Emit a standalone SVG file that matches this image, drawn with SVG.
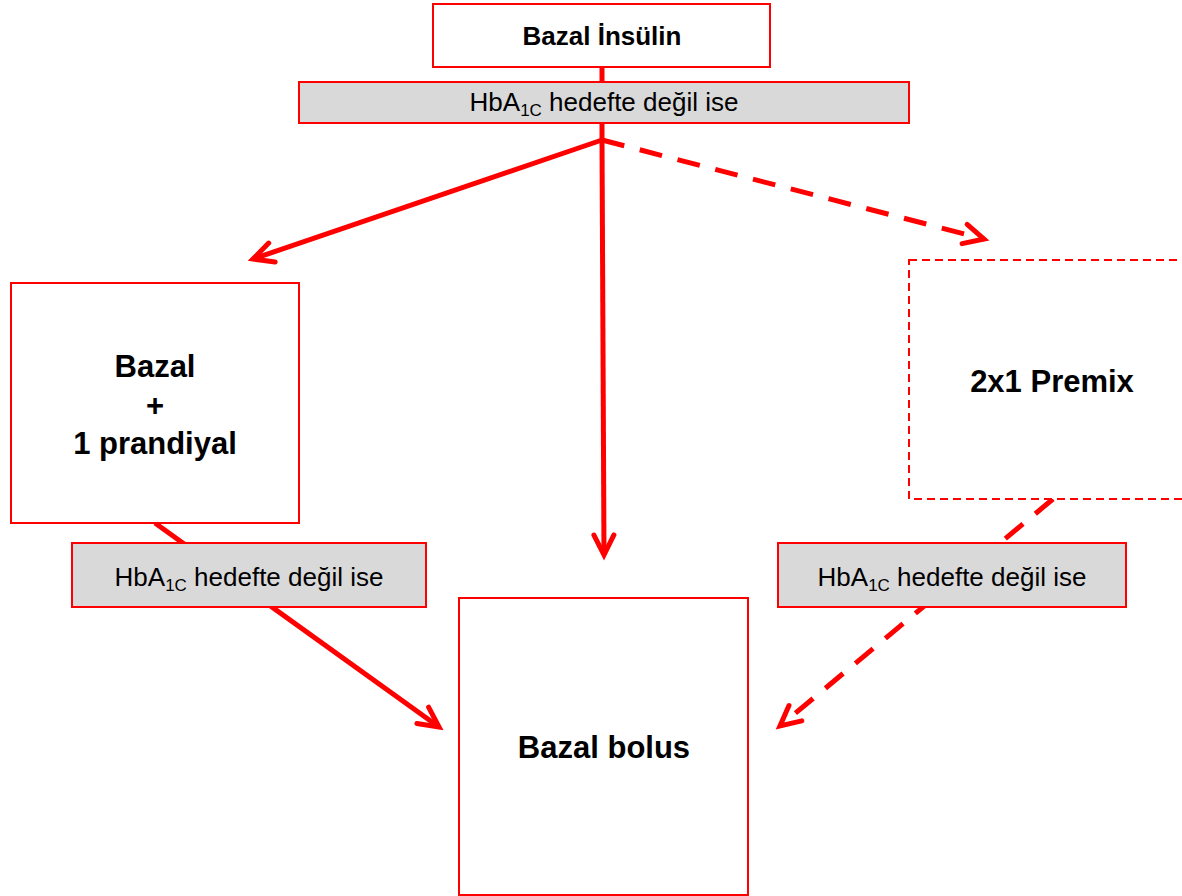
<svg xmlns="http://www.w3.org/2000/svg" width="1182" height="896" viewBox="0 0 1182 896">
  <style>
    .box { fill: #ffffff; stroke: #ff0000; stroke-width: 2; }
    .box-dashed { fill: #ffffff; stroke: #ff0000; stroke-width: 2; stroke-dasharray: 8 5; }
    .bar { fill: #d9d9d9; stroke: #ff0000; stroke-width: 2; }
    .title { font-family: "Liberation Sans", Arial, sans-serif; font-weight: bold; fill: #000000; text-anchor: middle; }
    .label { font-family: "Liberation Sans", Arial, sans-serif; font-size: 26px; fill: #000000; text-anchor: middle; }
    .edge { fill: none; stroke: #ff0000; stroke-width: 5; }
    .edge-dashed { fill: none; stroke: #ff0000; stroke-width: 5; stroke-dasharray: 23 16; }
  </style>
  <defs>
    <marker id="chevron" markerUnits="userSpaceOnUse" viewBox="-24 -14 30 28" refX="0" refY="0" markerWidth="30" markerHeight="28" orient="auto">
      <path d="M-20,-10 L0,0 L-20,10" fill="none" stroke="#ff0000" stroke-width="5" stroke-linecap="round" stroke-linejoin="miter" stroke-dasharray="none"/>
    </marker>
  </defs>

  <rect width="1182" height="896" fill="#ffffff"/>

  <!-- connectors -->
  <g id="connectors">
    <line class="edge" x1="602" y1="67" x2="602" y2="82"/>
    <line class="edge" x1="602" y1="123" x2="602" y2="141"/>
    <line class="edge" x1="602" y1="140" x2="253" y2="259" marker-end="url(#chevron)"/>
    <line class="edge" x1="602" y1="140" x2="604" y2="555" marker-end="url(#chevron)"/>
    <line class="edge-dashed" x1="602" y1="140" x2="984" y2="239" marker-end="url(#chevron)"/>
    <line class="edge" x1="155" y1="523" x2="439" y2="727" marker-end="url(#chevron)"/>
    <line class="edge-dashed" x1="1053" y1="499" x2="780" y2="726" marker-end="url(#chevron)"/>
  </g>

  <g id="node-bazal-insulin">
    <rect class="box" x="433" y="4" width="337" height="63"/>
    <text class="title" x="602" y="45" font-size="26">Bazal İnsülin</text>
  </g>

  <g id="cond-top">
    <rect class="bar" x="299" y="82" width="610" height="41"/>
    <text class="label" x="604" y="111">HbA<tspan font-size="17" dy="5">1C</tspan><tspan dy="-5"> hedefte değil ise</tspan></text>
  </g>

  <g id="node-bazal-prandiyal">
    <rect class="box" x="11" y="283" width="288" height="240"/>
    <text class="title" x="155" y="377" font-size="31">Bazal</text>
    <text class="title" x="155" y="416" font-size="31">+</text>
    <text class="title" x="155" y="454" font-size="31">1 prandiyal</text>
  </g>

  <g id="node-premix">
    <rect class="box-dashed" x="909" y="260" width="290" height="239"/>
    <text class="title" x="1052" y="392" font-size="31">2x1 Premix</text>
  </g>

  <g id="cond-left">
    <rect class="bar" x="72" y="543" width="354" height="64"/>
    <text class="label" x="249" y="586">HbA<tspan font-size="17" dy="5">1C</tspan><tspan dy="-5"> hedefte değil ise</tspan></text>
  </g>

  <g id="cond-right">
    <rect class="bar" x="778" y="543" width="348" height="64"/>
    <text class="label" x="952" y="586">HbA<tspan font-size="17" dy="5">1C</tspan><tspan dy="-5"> hedefte değil ise</tspan></text>
  </g>

  <g id="node-bazal-bolus">
    <rect class="box" x="459" y="598" width="289" height="297"/>
    <text class="title" x="604" y="758" font-size="31">Bazal bolus</text>
  </g>
</svg>
